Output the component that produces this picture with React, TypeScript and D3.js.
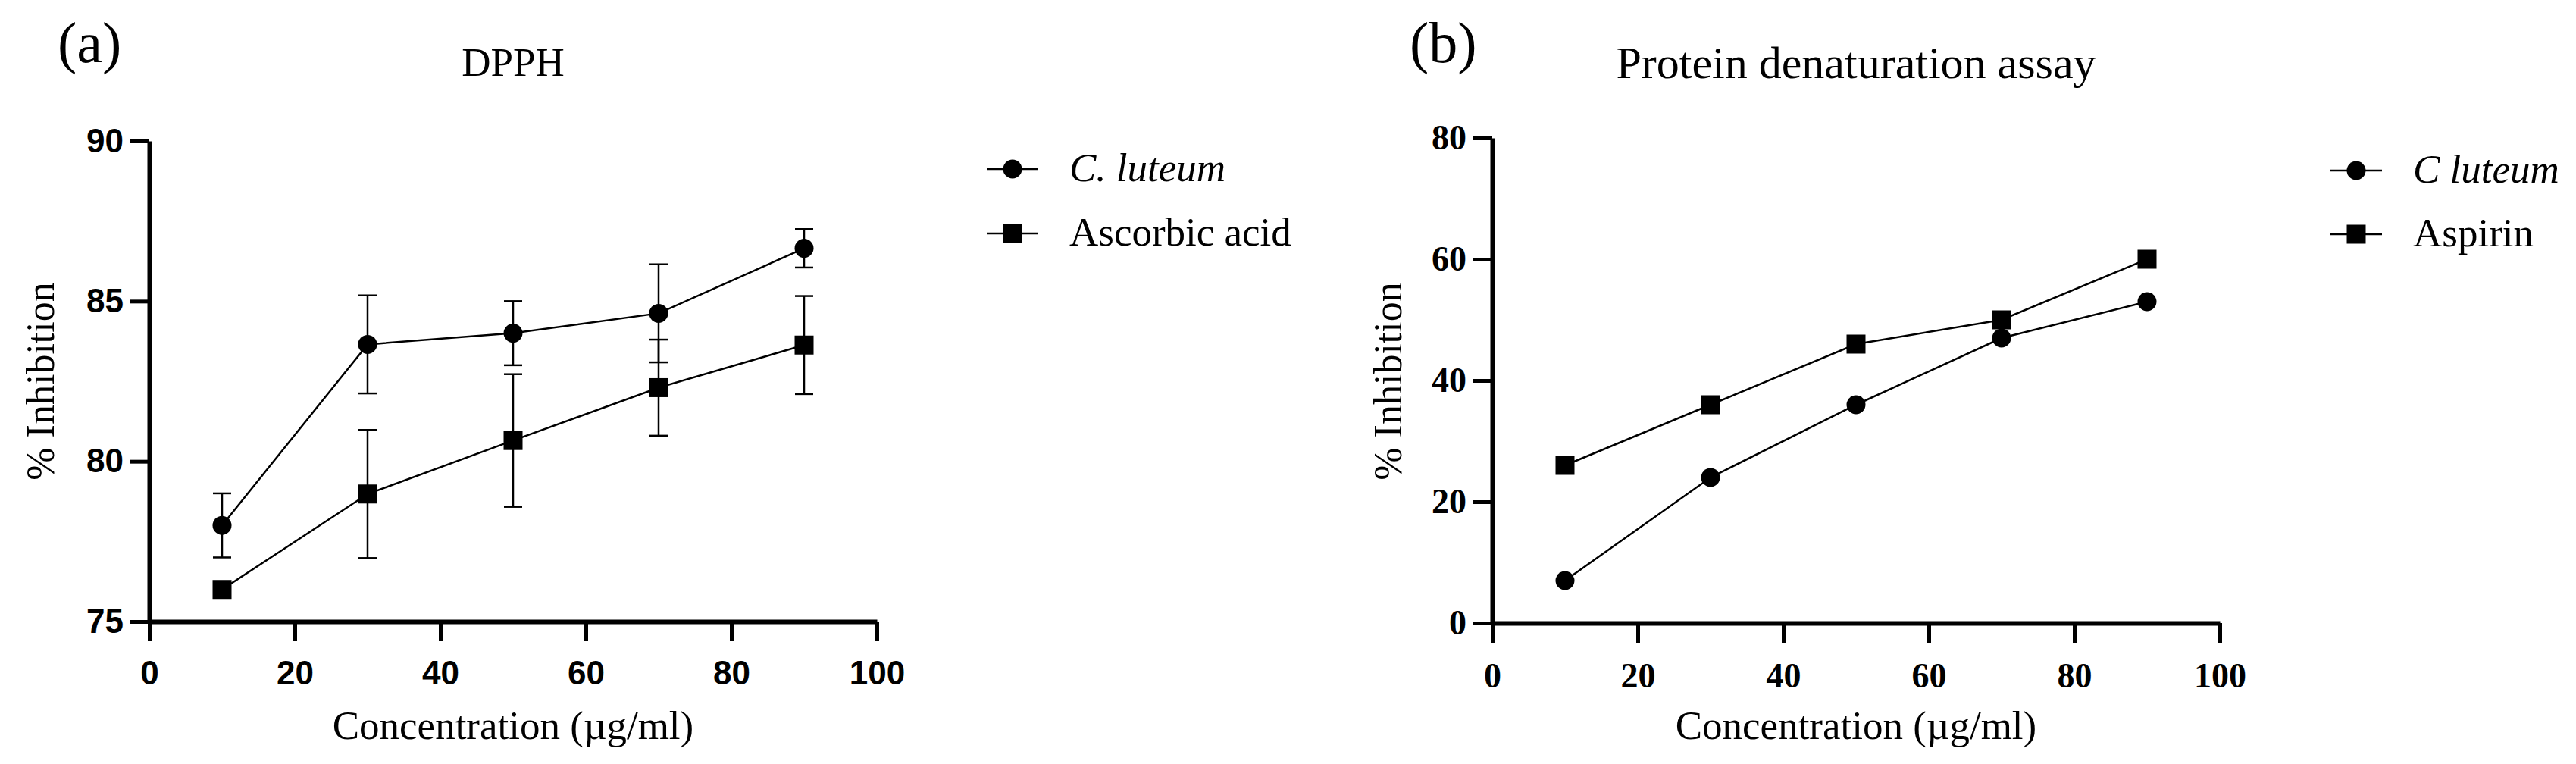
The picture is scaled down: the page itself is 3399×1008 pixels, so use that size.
import { useEffect, useRef } from 'react';
import * as d3 from 'd3';

const concentrations = [10, 30, 50, 70, 90];
const xTicks = [0, 20, 40, 60, 80, 100];

// (a) DPPH
const dpphTicks = [75, 80, 85, 90];
const dpphLuteum = [78, 83.65, 84, 84.62, 86.65];
const dpphLuteumErr = [1, 1.53, 1, 1.53, 0.6];
const dpphAscorbic = [76, 78.98, 80.65, 82.3, 83.63];
const dpphAscorbicErr = [0, 2, 2.07, 1.5, 1.53];
const dpphLegend = ['C. luteum', 'Ascorbic acid'];

// (b) protein denaturation
const proteinTicks = [0, 20, 40, 60, 80];
const proteinLuteum = [7, 24, 36, 47, 53];
const proteinAspirin = [26, 36, 46, 50, 60];
const proteinLegend = ['C luteum', 'Aspirin'];

const serif = "'Liberation Serif', 'Times New Roman', serif";
const sans = "'Liberation Sans', Arial, sans-serif";

const panels = [
  {
    tag: '(a)',
    title: 'DPPH',
    titleSize: 53,
    tagX: 76,
    titleY: 100,
    yTitleX: 71,
    left: 197,
    right: 1157,
    top: 186,
    bottom: 820,
    yDomain: [75, 90],
    yTicks: dpphTicks,
    tickFont: sans,
    tickSize: 44,
    series: [
      { values: dpphLuteum, err: dpphLuteumErr, shape: d3.symbolCircle },
      { values: dpphAscorbic, err: dpphAscorbicErr, shape: d3.symbolSquare },
    ],
    legend: dpphLegend,
    legendX: 1336,
    legendY: [223, 308],
  },
  {
    tag: '(b)',
    title: 'Protein denaturation assay',
    titleSize: 60,
    tagX: 1860,
    titleY: 103,
    yTitleX: 1849,
    left: 1969,
    right: 2929,
    top: 182,
    bottom: 822,
    yDomain: [0, 80],
    yTicks: proteinTicks,
    tickFont: serif,
    tickSize: 46,
    series: [
      { values: proteinLuteum, err: null, shape: d3.symbolCircle },
      { values: proteinAspirin, err: null, shape: d3.symbolSquare },
    ],
    legend: proteinLegend,
    legendX: 3109,
    legendY: [225, 309],
  },
];

const symbolArea = (shape) => (shape === d3.symbolCircle ? Math.PI * 12.5 * 12.5 : 25 * 25);

const drawPanel = (svg, p) => {
  const g = svg.append('g');
  const x = d3.scaleLinear().domain([0, 100]).range([p.left, p.right]);
  const y = d3.scaleLinear().domain(p.yDomain).range([p.bottom, p.top]);
  const midX = (p.left + p.right) / 2;

  // x axis
  const xAxis = g
    .append('g')
    .attr('transform', `translate(0, ${p.bottom})`)
    .call(d3.axisBottom(x).tickValues(xTicks).tickSize(26).tickSizeOuter(0).tickPadding(26));
  // y axis
  const yAxis = g
    .append('g')
    .attr('transform', `translate(${p.left}, 0)`)
    .call(d3.axisLeft(y).tickValues(p.yTicks).tickSize(26).tickSizeOuter(0).tickPadding(8));

  [xAxis, yAxis].forEach((a) => {
    a.select('.domain').attr('stroke', '#000').attr('stroke-width', 6);
    a.selectAll('.tick line').attr('stroke', '#000').attr('stroke-width', 5);
    a.selectAll('.tick text')
      .attr('fill', '#000')
      .style('font-family', p.tickFont)
      .style('font-weight', 'bold')
      .style('font-size', `${p.tickSize}px`);
  });

  const line = d3
    .line()
    .x((d, i) => x(concentrations[i]))
    .y((d) => y(d));

  p.series.forEach((s) => {
    g.append('path')
      .attr('d', line(s.values))
      .attr('fill', 'none')
      .attr('stroke', '#000')
      .attr('stroke-width', 2.5);

    if (s.err) {
      s.values.forEach((v, i) => {
        const e = s.err[i];
        if (!e) return;
        const cx = x(concentrations[i]);
        const eb = g.append('g').attr('stroke', '#000').attr('stroke-width', 2.5);
        eb.append('line').attr('x1', cx).attr('x2', cx).attr('y1', y(v + e)).attr('y2', y(v - e));
        [v + e, v - e].forEach((ev) => {
          eb.append('line')
            .attr('x1', cx - 12)
            .attr('x2', cx + 12)
            .attr('y1', y(ev))
            .attr('y2', y(ev));
        });
      });
    }

    g.selectAll(null)
      .data(s.values)
      .enter()
      .append('path')
      .attr('d', d3.symbol(s.shape, symbolArea(s.shape)))
      .attr('transform', (d, i) => `translate(${x(concentrations[i])}, ${y(d)})`)
      .attr('fill', '#000');
  });

  // panel tag and title
  g.append('text')
    .attr('x', p.tagX)
    .attr('y', 82)
    .style('font-family', serif)
    .style('font-size', '76px')
    .text(p.tag);
  g.append('text')
    .attr('x', midX)
    .attr('y', p.titleY)
    .attr('text-anchor', 'middle')
    .style('font-family', serif)
    .style('font-size', `${p.titleSize}px`)
    .text(p.title);

  // axis titles
  g.append('text')
    .attr('x', midX)
    .attr('y', 975)
    .attr('text-anchor', 'middle')
    .style('font-family', serif)
    .style('font-size', '53px')
    .text('Concentration (µg/ml)');
  g.append('text')
    .attr('transform', `translate(${p.yTitleX}, 503) rotate(-90)`)
    .attr('text-anchor', 'middle')
    .style('font-family', serif)
    .style('font-size', '52px')
    .text('% Inhibition');

  // legend
  p.legend.forEach((label, i) => {
    const ly = p.legendY[i];
    const shape = p.series[i].shape;
    g.append('line')
      .attr('x1', p.legendX - 34)
      .attr('x2', p.legendX + 34)
      .attr('y1', ly)
      .attr('y2', ly)
      .attr('stroke', '#000')
      .attr('stroke-width', 2.5);
    g.append('path')
      .attr('d', d3.symbol(shape, symbolArea(shape)))
      .attr('transform', `translate(${p.legendX}, ${ly})`)
      .attr('fill', '#000');
    g.append('text')
      .attr('x', p.legendX + 75)
      .attr('y', ly + 16)
      .style('font-family', serif)
      .style('font-size', '53px')
      .style('font-style', i === 0 ? 'italic' : 'normal')
      .text(label);
  });
};

const Chart = () => {
  const ref = useRef(null);

  useEffect(() => {
    const svg = d3.select(ref.current);
    svg.selectAll('*').remove();
    panels.forEach((p) => drawPanel(svg, p));
  }, []);

  return <svg ref={ref} width={3399} height={1008} style={{ display: 'block', background: '#fff' }} />;
};

export default function App() {
  return (
    <div style={{ position: 'absolute', left: 0, top: 0, width: 3399, height: 1008, background: '#fff' }}>
      <Chart />
    </div>
  );
}
